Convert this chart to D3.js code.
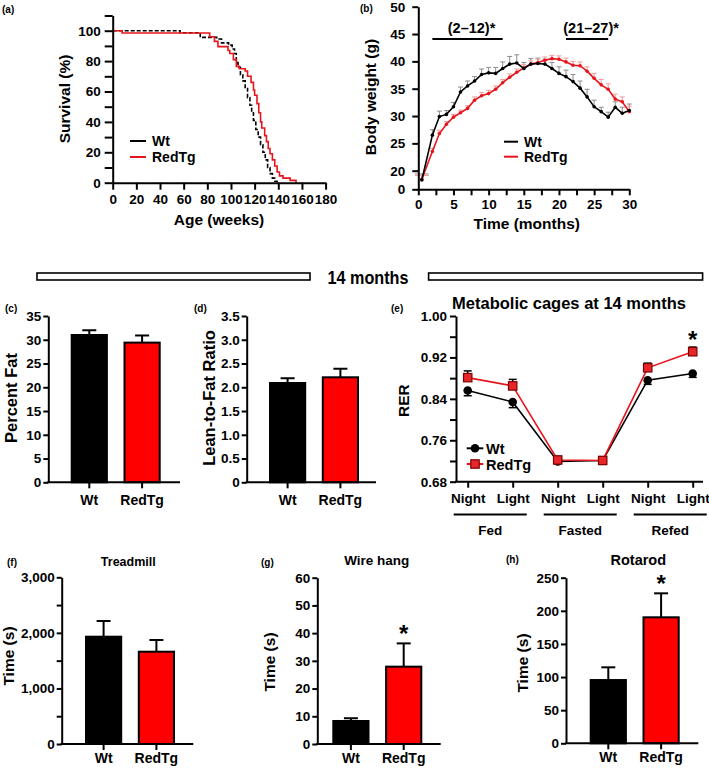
<!DOCTYPE html>
<html><head><meta charset="utf-8">
<script src="https://cdn.jsdelivr.net/npm/d3@7"></script>
<style>
body{margin:0;background:#fff}
svg text{font-family:"Liberation Sans",Arial,Helvetica,sans-serif;font-weight:bold;fill:#000}
</style></head><body>
<svg id="fig" width="709" height="770"></svg>
<script>
// ---------------- DATA ----------------
const groups = ["Wt", "RedTg"];
// (a) survival, Kaplan–Meier steps [week, %]
const survWt = [[0,100],[57,98.7],[74,95.6],[88,94.5],[92,92],[98,90.5],[101,88],[103,85],[104.5,79],[106,76],[108,71],[110,67],[112,62],[114,56],[116,51],[117.5,46],[119,41],[121,35],[123,30],[125,25],[127,20],[129,15],[131,10],[133,6],[135,3],[137,1],[139,0]];
const survRed = [[0,100],[8,98.5],[82,96],[86,93],[89,89.5],[97.5,87],[99,85],[102,81],[104.5,76.5],[107,75],[112,73.5],[114,70],[117,66],[119,61],[120,57.5],[122,52],[123.5,46],[125,40],[126,36],[128.5,31],[130,27],[131.5,22.5],[133,19],[135,15],[137,11],[139,7],[141,4.5],[144,3],[150,1.5],[155,0]];
const survTicksX = [0,20,40,60,80,100,120,140,160,180];
// (b) body weight
const bwMonths = [0.5,2,3,4,5,6,7,8,9,10,11,12,13,14,15,16,17,18,19,20,21,22,23,24,25,26,27,28,29,30];
const bwWt     = [10.0,26.5,29.9,30.3,31.7,34.4,35.5,36.4,37.6,37.9,37.8,38.7,39.5,39.7,38.7,39.5,39.6,39.5,38.7,37.8,37.2,36.3,35.1,33.5,31.7,30.8,29.8,31.6,30.5,31.0];
const bwWtErr  = [6.5,1.0,1.0,0.7,0.8,0.9,0.9,0.8,1.0,1.0,1.1,1.2,1.4,1.5,1.1,1.0,1.0,0.9,1.1,1.2,1.2,1.3,1.3,1.4,1.2,0.8,0.9,1.0,1.1,1.2];
const bwRed    = [10.8,23.5,26.8,28.5,29.8,30.6,31.4,32.9,33.7,34.1,34.9,36.1,37.1,38.0,38.8,39.5,39.8,40.2,40.5,40.4,39.9,39.3,39.2,38.2,36.9,35.7,34.9,33.1,32.6,30.8];
const bwRedErr = [4.0,0.6,0.6,0.5,0.5,0.5,0.5,0.6,0.6,0.6,0.6,0.6,0.6,0.6,0.6,0.6,0.6,0.6,0.6,0.6,0.7,0.7,0.7,0.8,0.9,1.0,1.0,0.9,0.9,1.0];
const bwSig = [{from:2,to:12,label:"(2\u201312)*"},{from:21,to:27,label:"(21\u201327)*"}];
// (c)-(h)
const percentFat = [31.0, 29.4],  percentFatErr = [1.0, 1.5];
const leanFat    = [2.09, 2.21],  leanFatErr    = [0.10, 0.18];
const treadmill  = [1931, 1661],  treadmillErr  = [283, 211];
const wireHang   = [8.3, 27.9],   wireHangErr   = [1.0, 8.4];
const rotarod    = [95.5, 190.2], rotarodErr    = [19.2, 36.2];
// (e) RER
const rerPhase  = ["Night","Light","Night","Light","Night","Light"];
const rerGroups = ["Fed","Fasted","Refed"];
const rerWt     = [0.856,0.834,0.719,0.721,0.876,0.889];
const rerWtErr  = [0.010,0.011,0.002,0.001,0.008,0.0075];
const rerRed    = [0.881,0.865,0.722,0.721,0.900,0.931];
const rerRedErr = [0.013,0.0126,0.002,0.001,0.009,0.009];

// ---------------- DRAW ----------------
const RED = "#ff0000", LRED = "#e8141b";
const FONT = '"Liberation Sans", Arial, Helvetica, sans-serif';
const svg = d3.select("#fig");
svg.append("rect").attr("width",709).attr("height",770).attr("fill","#fff");

function txt(g, x, y, s, size, anchor, rot) {
  const t = g.append("text").attr("font-size", size).attr("text-anchor", anchor || "start").text(s);
  if (rot) t.attr("transform", `translate(${x},${y}) rotate(-90)`);
  else t.attr("x", x).attr("y", y);
  return t;
}
function styleAxis(g, size) {
  g.attr("font-size", size || 13.5).attr("font-family", FONT).attr("font-weight", "bold");
  g.selectAll(".domain").attr("stroke", "#000").attr("stroke-width", 2);
  g.selectAll(".tick line").attr("stroke", "#000").attr("stroke-width", 2);
  g.selectAll(".tick text").attr("fill", "#000");
}

// ---- (a) survival ----
(function(){
  const g = svg.append("g");
  const x = d3.scaleLinear().domain([0,180]).range([112.7,325.6]);
  const y = d3.scaleLinear().domain([0,110]).range([182.7,15.5]);
  const line = d3.line().curve(d3.curveStepAfter).x(d=>x(d[0])).y(d=>y(d[1]));
  g.append("path").datum(survWt).attr("d", line).attr("fill","none").attr("stroke","#000").attr("stroke-width",1.6).attr("stroke-dasharray","4,2");
  g.append("path").datum(survRed).attr("d", line).attr("fill","none").attr("stroke",LRED).attr("stroke-width",1.6);
  const ya = g.append("g").attr("transform",`translate(${x(0)},0)`)
    .call(d3.axisLeft(y).tickValues(d3.range(0,111,10)).tickSize(8).tickPadding(4).tickSizeOuter(0)
      .tickFormat(d => (d % 20 === 0 && d <= 100) ? d : ""));
  styleAxis(ya);
  const xa = g.append("g").attr("transform",`translate(0,${y(0)})`)
    .call(d3.axisBottom(x).tickValues(survTicksX).tickSize(7).tickPadding(5).tickSizeOuter(0));
  styleAxis(xa);
  txt(g, 70, 99, "Survival (%)", 15.5, "middle", true);
  txt(g, 219, 225, "Age (weeks)", 15.5, "middle");
  txt(g, 2, 13, "(a)", 10);
  // legend
  [["Wt","#000"],["RedTg",LRED]].forEach((d,i)=>{
    g.append("line").attr("x1",130).attr("x2",146).attr("y1",141+i*16).attr("y2",141+i*16).attr("stroke",d[1]).attr("stroke-width",2);
    txt(g, 152, 146+i*16, d[0], 14);
  });
})();

// ---- (b) body weight ----
(function(){
  const g = svg.append("g");
  const x = d3.scaleLinear().domain([0,30]).range([418.3,629.3]);
  const y = d3.scaleLinear().domain([0,20,50]).range([189.3,170.7,6.7]);
  const series = [
    {v:bwWt, e:bwWtErr, c:"#000", ec:"#8c8c8c"},
    {v:bwRed, e:bwRedErr, c:LRED, ec:"#f29b9b"}
  ];
  series.forEach(s=>{
    const eg = g.append("g");
    bwMonths.forEach((m,i)=>{
      const hw = i===0 ? 7 : 2.5;
      eg.append("line").attr("x1",x(m)).attr("x2",x(m)).attr("y1",y(s.v[i])).attr("y2",y(s.v[i]+s.e[i])).attr("stroke",s.ec).attr("stroke-width",1);
      eg.append("line").attr("x1",x(m)-hw).attr("x2",x(m)+hw).attr("y1",y(s.v[i]+s.e[i])).attr("y2",y(s.v[i]+s.e[i])).attr("stroke",s.ec).attr("stroke-width",1);
    });
  });
  series.slice().reverse().forEach(s=>{
    const pts = bwMonths.map((m,i)=>[m,s.v[i]]);
    g.append("path").datum(pts).attr("d", d3.line().x(d=>x(d[0])).y(d=>y(d[1]))).attr("fill","none").attr("stroke",s.c).attr("stroke-width",1.6);
    g.selectAll(null).data(pts).join("circle").attr("cx",d=>x(d[0])).attr("cy",d=>y(d[1])).attr("r",1.8).attr("fill",s.c);
  });
  const ya = g.append("g").attr("transform",`translate(${x(0)},0)`)
    .call(d3.axisLeft(y).tickValues([0,20,25,30,35,40,45,50]).tickSize(6).tickPadding(7).tickSizeOuter(0));
  styleAxis(ya);
  const xa = g.append("g").attr("transform",`translate(0,${y(0)})`)
    .call(d3.axisBottom(x).tickValues(d3.range(0,30.1,2.5)).tickSize(6).tickPadding(4).tickSizeOuter(0)
      .tickFormat(d => d % 5 === 0 ? d : ""));
  styleAxis(xa);
  txt(g, 376, 97, "Body weight (g)", 15.5, "middle", true);
  txt(g, 526.7, 229, "Time (months)", 15.5, "middle");
  txt(g, 360, 12, "(b)", 10);
  bwSig.forEach(s=>{
    g.append("line").attr("x1",x(s.from)).attr("x2",x(s.to)).attr("y1",39).attr("y2",39).attr("stroke","#000").attr("stroke-width",2);
    txt(g, (x(s.from)+x(s.to))/2+4, 33, s.label, 14.5, "middle");
  });
  [["Wt","#000"],["RedTg",LRED]].forEach((d,i)=>{
    g.append("line").attr("x1",504).attr("x2",518).attr("y1",141.7+i*15).attr("y2",141.7+i*15).attr("stroke",d[1]).attr("stroke-width",2);
    txt(g, 524, 146.5+i*15, d[0], 14);
  });
})();

// ---- banner ----
(function(){
  const g = svg.append("g");
  g.append("rect").attr("x",37).attr("y",273).attr("width",273).attr("height",7).attr("fill","#fff").attr("stroke","#000").attr("stroke-width",1.6);
  g.append("rect").attr("x",428.6).attr("y",273).attr("width",274).attr("height",7).attr("fill","#fff").attr("stroke","#000").attr("stroke-width",1.6);
  txt(g, 368, 283.5, "14 months", 18, "middle").attr("textLength",81).attr("lengthAdjust","spacingAndGlyphs");
})();

// ---- bar panels ----
function barPanel(L, vals, errs, dom, ticks, fmt) {
  const g = svg.append("g");
  const y = d3.scaleLinear().domain(dom).range([L.y0, L.y1]);
  const x = d3.scaleBand().domain(groups).range([L.bx0, L.bx0+88]).paddingInner(1/3).paddingOuter(0);
  // error bars (upward)
  groups.forEach((k,i)=>{
    const cx = x(k) + x.bandwidth()/2;
    g.append("line").attr("x1",cx).attr("x2",cx).attr("y1",y(vals[i])).attr("y2",y(vals[i]+errs[i])).attr("stroke","#000").attr("stroke-width",2);
    g.append("line").attr("x1",cx-7).attr("x2",cx+7).attr("y1",y(vals[i]+errs[i])).attr("y2",y(vals[i]+errs[i])).attr("stroke","#000").attr("stroke-width",2);
  });
  g.selectAll("rect.bar").data(groups).join("rect").attr("class","bar")
    .attr("x", d=>x(d)).attr("width", x.bandwidth())
    .attr("y", (d,i)=>y(vals[i])).attr("height", (d,i)=>L.y0 - y(vals[i]))
    .attr("fill", (d,i)=> i ? RED : "#000").attr("stroke","#000").attr("stroke-width",2);
  const ya = g.append("g").attr("transform",`translate(${L.ax},0)`)
    .call(d3.axisLeft(y).tickValues(ticks).tickFormat(fmt).tickSize(5).tickPadding(2).tickSizeOuter(0));
  styleAxis(ya);
  g.append("line").attr("x1",L.ax-1).attr("x2",L.axEnd).attr("y1",L.y0).attr("y2",L.y0).attr("stroke","#000").attr("stroke-width",2);
  const xa = g.append("g").attr("transform",`translate(0,${L.y0})`)
    .call(d3.axisBottom(x).tickSize(6).tickPadding(L.xpad).tickSizeOuter(0));
  xa.select(".domain").remove();
  styleAxis(xa, 14);
  txt(g, L.tx, L.ty, L.title, L.tsize, "middle", true);
  txt(g, L.lx, L.ly, L.label, 10);
  if (L.head) txt(g, L.hx, L.hy, L.head, L.hsize, "middle");
  if (L.star !== undefined) {
    const cx = x(groups[L.star]) + x.bandwidth()/2;
    txt(g, cx, y(vals[L.star]+errs[L.star]) - 1, "*", 24, "middle");
  }
}
barPanel({ax:48.3, axEnd:180, y0:482.3, y1:316, bx0:71.7, xpad:7, tx:16.5, ty:398, title:"Percent Fat", tsize:16.5, lx:5, ly:312, label:"(c)"},
  percentFat, percentFatErr, [0,35], d3.range(0,36,5), d=>d);
barPanel({ax:246.7, axEnd:376, y0:482.3, y1:316, bx0:270, xpad:7, tx:214.5, ty:398, title:"Lean-to-Fat Ratio", tsize:16.5, lx:194, ly:312, label:"(d)"},
  leanFat, leanFatErr, [0,3.5], d3.range(0,3.51,0.5), d=> d===0 ? "0" : d.toFixed(1));
barPanel({ax:61.7, axEnd:193.3, y0:744, y1:577.3, bx0:86, xpad:3, tx:14, ty:656, title:"Time (s)", tsize:15.5, lx:7, ly:566, label:"(f)", head:"Treadmill", hx:128.3, hy:566, hsize:12.5},
  treadmill, treadmillErr, [0,3000], d3.range(0,3001,500), d=> d%1000===0 ? d3.format(",")(d) : "");
barPanel({ax:317.3, axEnd:440.7, y0:744, y1:577.7, bx0:333.3, xpad:3, tx:275, ty:662, title:"Time (s)", tsize:15.5, lx:261, ly:566, label:"(g)", head:"Wire hang", hx:376.7, hy:565, hsize:13.5, star:1},
  wireHang, wireHangErr, [0,60], d3.range(0,61,10), d=>d);
barPanel({ax:566, axEnd:698.3, y0:743.3, y1:577.7, bx0:590.7, xpad:3, tx:528, ty:663, title:"Time (s)", tsize:15.5, lx:506, ly:563, label:"(h)", head:"Rotarod", hx:638.3, hy:565, hsize:14.5, star:1},
  rotarod, rotarodErr, [0,250], d3.range(0,251,50), d=>d);

// ---- (e) RER ----
(function(){
  const g = svg.append("g");
  const idx = d3.range(rerPhase.length);
  const x = d3.scalePoint().domain(idx).range([467.7,692.7]);
  const y = d3.scaleLinear().domain([0.68,1.00]).range([481.7,316]);
  // error bars: Wt down, RedTg up
  idx.forEach(i=>{
    [[rerWt[i], -rerWtErr[i]],[rerRed[i], rerRedErr[i]]].forEach(p=>{
      const yy = y(p[0]+p[1]);
      g.append("line").attr("x1",x(i)).attr("x2",x(i)).attr("y1",y(p[0])).attr("y2",yy).attr("stroke","#000").attr("stroke-width",1.5);
      g.append("line").attr("x1",x(i)-4).attr("x2",x(i)+4).attr("y1",yy).attr("y2",yy).attr("stroke","#000").attr("stroke-width",1.5);
    });
  });
  const line = d3.line().x(d=>x(d[0])).y(d=>y(d[1]));
  const wtPts = idx.map(i=>[i,rerWt[i]]), redPts = idx.map(i=>[i,rerRed[i]]);
  g.append("path").datum(wtPts).attr("d",line).attr("fill","none").attr("stroke","#000").attr("stroke-width",1.6);
  g.selectAll(null).data(wtPts).join("circle").attr("cx",d=>x(d[0])).attr("cy",d=>y(d[1])).attr("r",4.3).attr("fill","#000");
  g.append("path").datum(redPts).attr("d",line).attr("fill","none").attr("stroke",LRED).attr("stroke-width",1.6);
  g.selectAll(null).data(redPts).join("rect").attr("x",d=>x(d[0])-4.2).attr("y",d=>y(d[1])-4.2).attr("width",8.4).attr("height",8.4)
    .attr("fill","#e8262a").attr("stroke","#7a0000").attr("stroke-width",1.2);
  const ya = g.append("g").attr("transform",`translate(456,0)`)
    .call(d3.axisLeft(y).tickValues(d3.range(0,9).map(k=>0.68+k*0.04)).tickSize(6).tickPadding(3).tickSizeOuter(0)
      .tickFormat((d,k)=> k%2===0 ? d.toFixed(2) : ""));
  styleAxis(ya);
  g.append("line").attr("x1",455).attr("x2",703).attr("y1",481.7).attr("y2",481.7).attr("stroke","#000").attr("stroke-width",2);
  const xa = g.append("g").attr("transform",`translate(0,481.7)`)
    .call(d3.axisBottom(x).tickSize(6).tickPadding(6).tickSizeOuter(0).tickFormat(i=>rerPhase[i]));
  xa.select(".domain").remove();
  styleAxis(xa, 13.5);
  rerGroups.forEach((name,k)=>{
    const c = (x(2*k)+x(2*k+1))/2;
    g.append("line").attr("x1",c-36.5).attr("x2",c+36.5).attr("y1",514.5).attr("y2",514.5).attr("stroke","#000").attr("stroke-width",2);
    txt(g, c, 535, name, 13.5, "middle");
  });
  txt(g, 408.5, 400.7, "RER", 15.5, "middle", true);
  txt(g, 569, 308.5, "Metabolic cages at 14 months", 16.5, "middle");
  txt(g, 391, 312, "(e)", 10);
  // star
  txt(g, x(5), y(rerRed[5]+rerRedErr[5]) + 1, "*", 24, "middle");
  // legend
  g.append("line").attr("x1",466.7).attr("x2",483.3).attr("y1",448.3).attr("y2",448.3).attr("stroke","#000").attr("stroke-width",2);
  g.append("circle").attr("cx",475).attr("cy",448.3).attr("r",4.3).attr("fill","#000");
  txt(g, 486, 454, "Wt", 14.5);
  g.append("line").attr("x1",466.7).attr("x2",483.3).attr("y1",464).attr("y2",464).attr("stroke",LRED).attr("stroke-width",2);
  g.append("rect").attr("x",475-4.2).attr("y",464-4.2).attr("width",8.4).attr("height",8.4).attr("fill","#e8262a").attr("stroke","#7a0000").attr("stroke-width",1.2);
  txt(g, 486, 469.5, "RedTg", 14.5);
})();
</script>
</body></html>
